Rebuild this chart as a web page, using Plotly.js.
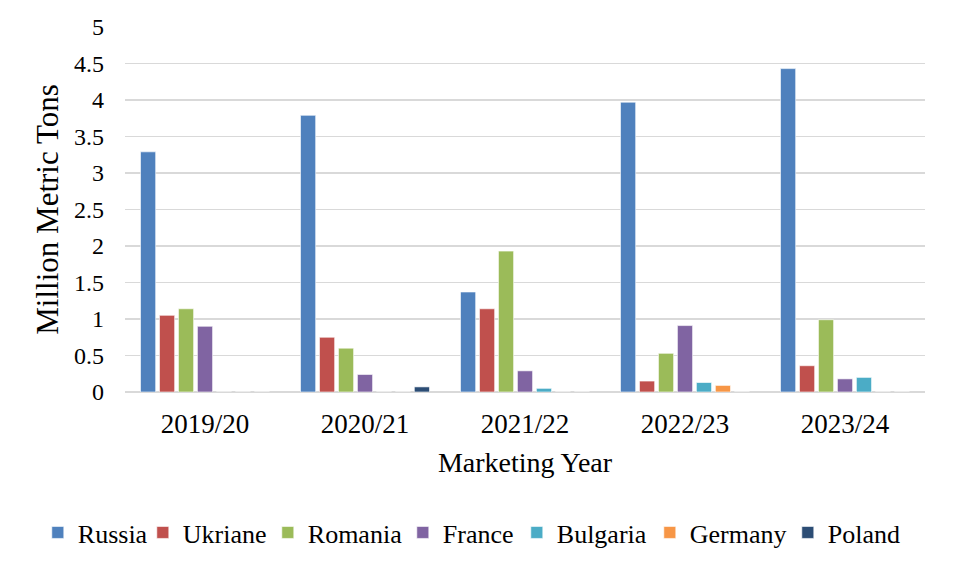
<!DOCTYPE html>
<html>
<head>
<meta charset="utf-8">
<script src="https://cdn.plot.ly/plotly-3.0.1.min.js"></script>
<style>html,body{margin:0;padding:0;background:#fff;}#chart{width:954px;height:568px;}</style>
</head>
<body>
<div id="chart"></div>
<script>
const years = ["2019/20", "2020/21", "2021/22", "2022/23", "2023/24"];
const russia   = [3.29, 3.79, 1.37, 3.97, 4.43];
const ukraine  = [1.05, 0.75, 1.14, 0.15, 0.36];
const romania  = [1.14, 0.60, 1.93, 0.53, 0.99];
const france   = [0.90, 0.24, 0.29, 0.91, 0.18];
const bulgaria = [0, 0, 0.05, 0.13, 0.20];
const germany  = [0, 0, 0, 0.09, 0];
const poland   = [0, 0.07, 0, 0, 0];
const yTicks = [0, 0.5, 1, 1.5, 2, 2.5, 3, 3.5, 4, 4.5, 5];

const series = [
  ["Russia", russia, "#4F81BD", 60],
  ["Ukriane", ukraine, "#C0504D", 80],
  ["Romania", romania, "#9BBB59", 90],
  ["France", france, "#8064A2", 69],
  ["Bulgaria", bulgaria, "#4BACC6", 88],
  ["Germany", germany, "#F79646", 93],
  ["Poland", poland, "#2C4D75", 70]
];

const traces = series.map(([name, vals, color, lw]) => ({
  type: "bar",
  name: name,
  x: years,
  y: vals,
  legendwidth: lw,
  marker: {color: color, line: {color: "rgba(255,255,255,0.6)", width: 1}},
  hoverinfo: "x+y+name"
}));

const font = {family: "Liberation Serif, Times New Roman, serif", color: "#000", size: 24};

const layout = {
  width: 954, height: 568,
  margin: {l: 125, r: 29, t: 27, b: 171},
  paper_bgcolor: "#fff", plot_bgcolor: "#fff",
  font: font,
  barmode: "group",
  bargap: 0.17,
  bargroupgap: 0.2,
  xaxis: {
    title: {text: "Marketing Year", font: {size: 28}, standoff: 14},
    tickfont: {size: 27},
    ticklabelstandoff: 13,
    showline: false, ticks: "", showgrid: false
  },
  yaxis: {
    title: {text: "Million Metric Tons", font: {size: 31}, standoff: 6},
    range: [0, 5], tickvals: yTicks, ticktext: yTicks.map(String),
    tickfont: {size: 24},
    ticklabelstandoff: 20,
    showgrid: true, gridcolor: "#d9d9d9", gridwidth: 1.5,
    zeroline: true, zerolinecolor: "#d9d9d9", zerolinewidth: 1.5,
    showline: false, ticks: ""
  },
  legend: {
    orientation: "h", x: -0.109, xanchor: "left", y: -0.385, yanchor: "middle",
    font: {size: 26}, traceorder: "normal", itemwidth: 30
  },
  showlegend: true
};

Plotly.newPlot("chart", traces, layout, {displayModeBar: false, staticPlot: true});
</script>
</body>
</html>
